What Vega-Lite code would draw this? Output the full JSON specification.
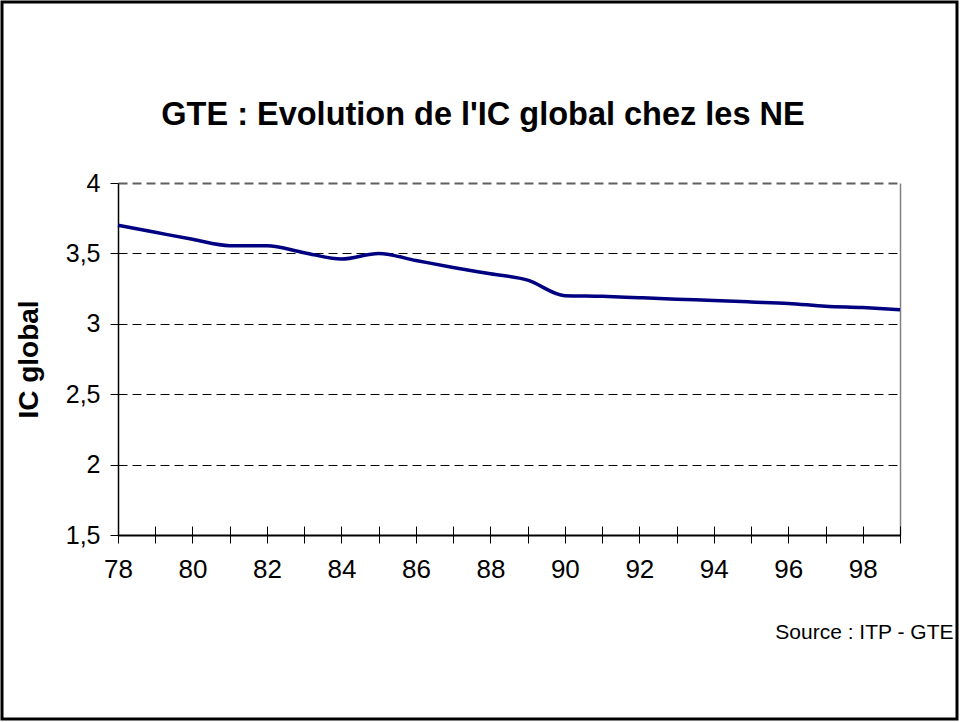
{
  "$schema": "https://vega.github.io/schema/vega-lite/v6.json",
  "width": 782,
  "height": 352,
  "autosize": "none",
  "padding": {"left": 118, "top": 183, "right": 60, "bottom": 187},
  "background": "white",
  "config": {
    "font": "Liberation Sans",
    "view": {"stroke": null}
  },
  "title": {
    "text": "GTE : Evolution de l'IC global chez les NE",
    "fontSize": 32.5,
    "fontWeight": "bold",
    "font": "Liberation Sans",
    "color": "black",
    "anchor": "middle",
    "frame": "group",
    "dx": -26,
    "offset": -131
  },
  "layer": [
    {
      "data": {"values": [{"frame": "cadre"}]},
      "mark": {"type": "rect", "x": -116, "y": -181, "x2": 839, "y2": 536, "fill": null, "stroke": "black", "strokeWidth": 3, "clip": false},
      "encoding": {}
    },
    {
      "data": {
        "values": [
          {"annee": 78, "ic": 3.70},
          {"annee": 79, "ic": 3.65},
          {"annee": 80, "ic": 3.60},
          {"annee": 81, "ic": 3.555},
          {"annee": 82, "ic": 3.555},
          {"annee": 83, "ic": 3.505},
          {"annee": 84, "ic": 3.46},
          {"annee": 85, "ic": 3.50},
          {"annee": 86, "ic": 3.45},
          {"annee": 87, "ic": 3.40},
          {"annee": 88, "ic": 3.355},
          {"annee": 89, "ic": 3.31},
          {"annee": 90, "ic": 3.20},
          {"annee": 91, "ic": 3.195},
          {"annee": 92, "ic": 3.185},
          {"annee": 93, "ic": 3.175},
          {"annee": 94, "ic": 3.165},
          {"annee": 95, "ic": 3.155},
          {"annee": 96, "ic": 3.145},
          {"annee": 97, "ic": 3.125},
          {"annee": 98, "ic": 3.115},
          {"annee": 99, "ic": 3.10}
        ]
      },
      "mark": {"type": "line", "interpolate": "monotone", "color": "#000080", "strokeWidth": 3.5},
      "encoding": {
        "x": {
          "field": "annee",
          "type": "quantitative",
          "scale": {"domain": [78, 99], "nice": false, "zero": false},
          "axis": {
            "values": [78,79,80,81,82,83,84,85,86,87,88,89,90,91,92,93,94,95,96,97,98,99],
            "labelExpr": "datum.value % 2 === 0 ? datum.value : ''",
            "domain": false,
            "offset": -9,
            "tickSize": 17,
            "tickColor": "black",
            "tickWidth": 1,
            "labelFontSize": 26,
            "labelColor": "black",
            "labelPadding": 13,
            "labelFlush": false,
            "labelOverlap": false,
            "grid": true,
            "gridColor": "#808080",
            "gridWidth": 1.5,
            "gridOpacity": {"condition": {"test": "datum.value === 99", "value": 1}, "value": 0},
            "title": "Source : ITP - GTE",
            "titleFontSize": 21,
            "titleFontWeight": "normal",
            "titleColor": "black",
            "titleAlign": "right",
            "titleAnchor": "end",
            "titleBaseline": "alphabetic",
            "titleX": 835,
            "titleY": 112
          }
        },
        "y": {
          "field": "ic",
          "type": "quantitative",
          "scale": {"domain": [1.5, 4], "nice": false, "zero": false},
          "axis": {
            "values": [1.5, 2, 2.5, 3, 3.5, 4],
            "labelExpr": "replace(format(datum.value, '.1~f'), '.', ',')",
            "domainColor": "black",
            "domainWidth": 1.5,
            "tickColor": "black",
            "tickSize": 8,
            "labelFontSize": 25,
            "labelColor": "black",
            "labelPadding": 10,
            "labelFlush": false,
            "grid": true,
            "gridColor": {"condition": {"test": "datum.value === 4", "value": "#606060"}, "value": "black"},
            "gridDash": {"condition": {"test": "datum.value === 1.5", "value": []}, "value": [9, 5]},
            "gridWidth": {"condition": {"test": "datum.value === 1.5 || datum.value === 4", "value": 2}, "value": 1},
            "gridOpacity": 1,
            "title": "IC global",
            "titleFontSize": 28,
            "titleFontWeight": "bold",
            "titleColor": "black",
            "titlePadding": 22
          }
        }
      }
    }
  ]
}
